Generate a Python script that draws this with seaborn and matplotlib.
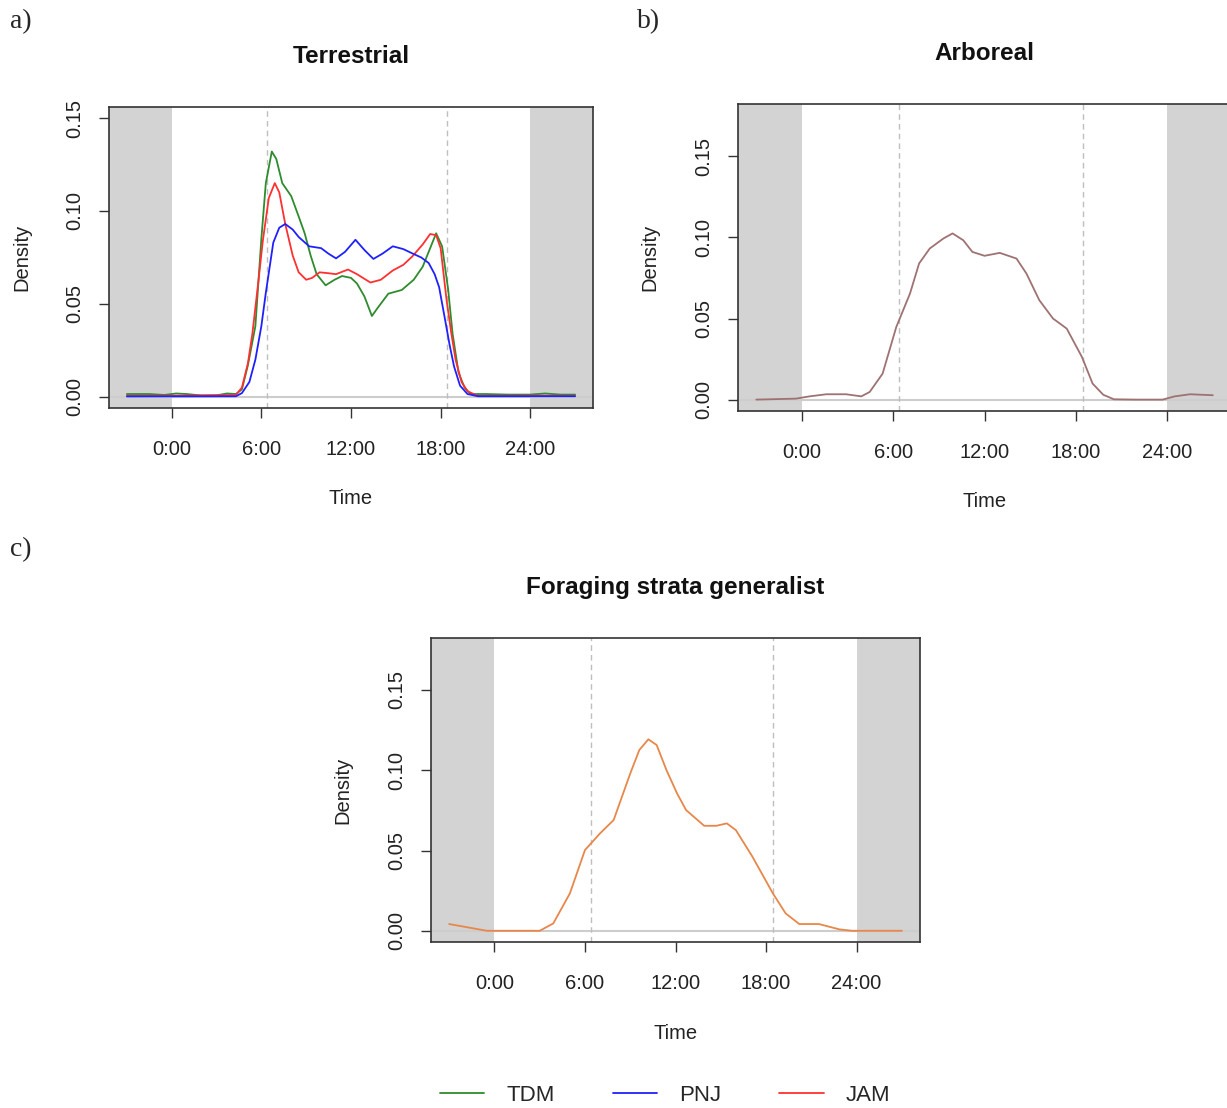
import matplotlib
matplotlib.use("Agg")
import matplotlib.pyplot as plt
from matplotlib.lines import Line2D
import numpy as np
import pandas as pd
import seaborn as sns

# Terrestrial: hour of day vs. kernel density, per site
tdm_t = [-3.0, -1.5, -0.5, 0.3, 1.0, 2.0, 3.0, 3.7, 4.3, 4.7, 5.1, 5.6, 6.0, 6.3, 6.7, 7.0,
         7.4, 8.0, 8.5, 8.9, 9.3, 9.7, 10.3, 10.9, 11.4, 12.0, 12.4, 12.9, 13.4, 13.8, 14.5,
         15.4, 16.2, 16.8, 17.3, 17.7, 18.1, 18.5, 18.8, 19.2, 19.6, 20.0, 21.0, 22.5, 24.0,
         25.0, 26.0, 27.0]
tdm_d = [0.0015, 0.0015, 0.001, 0.0018, 0.0015, 0.0007, 0.0008, 0.0018, 0.0015, 0.004, 0.017,
         0.038, 0.085, 0.115, 0.132, 0.128, 0.115, 0.108, 0.097, 0.088, 0.076, 0.066, 0.060,
         0.063, 0.065, 0.064, 0.061, 0.054, 0.0435, 0.048, 0.0555, 0.0575, 0.063, 0.070, 0.080,
         0.088, 0.081, 0.058, 0.034, 0.013, 0.005, 0.0015, 0.0015, 0.0012, 0.0012, 0.0018,
         0.0012, 0.0012]

jam_t = [-3.0, 0.0, 4.3, 4.7, 5.1, 5.4, 5.8, 6.1, 6.5, 6.9, 7.2, 7.6, 8.1, 8.5, 9.0, 9.4, 9.9,
         10.5, 11.0, 11.8, 12.4, 13.3, 14.0, 14.8, 15.5, 16.1, 16.8, 17.3, 17.7, 18.0, 18.4,
         18.7, 19.0, 19.4, 19.8, 20.5, 24.0, 27.0]
jam_d = [0.0005, 0.0006, 0.001, 0.005, 0.018, 0.034, 0.062, 0.084, 0.107, 0.115, 0.110, 0.093,
         0.076, 0.067, 0.063, 0.064, 0.067, 0.0665, 0.066, 0.0685, 0.066, 0.0615, 0.063, 0.068,
         0.071, 0.0755, 0.082, 0.0876, 0.087, 0.080, 0.052, 0.035, 0.020, 0.008, 0.003, 0.0005,
         0.0006, 0.0005]

pnj_t = [-3.0, 4.3, 4.7, 5.2, 5.6, 6.0, 6.3, 6.8, 7.2, 7.6, 8.1, 8.5, 9.2, 10.0, 10.5, 11.0,
         11.6, 12.3, 12.9, 13.5, 14.1, 14.8, 15.5, 16.1, 16.7, 17.2, 17.6, 17.9, 18.3, 18.6,
         18.9, 19.3, 19.8, 20.5, 27.0]
pnj_d = [0.0002, 0.0003, 0.002, 0.008, 0.020, 0.038, 0.056, 0.083, 0.091, 0.093, 0.090, 0.086,
         0.081, 0.080, 0.077, 0.0745, 0.078, 0.0845, 0.079, 0.0742, 0.077, 0.081, 0.0795, 0.0772,
         0.075, 0.072, 0.066, 0.059, 0.0414, 0.028, 0.0163, 0.006, 0.0015, 0.0003, 0.0003]

# Arboreal
arb_t = [-3.0, -0.4, 0.5, 1.6, 2.9, 3.9, 4.45, 5.3, 6.2, 7.1, 7.7, 8.4, 9.3, 9.9, 10.6, 11.2,
         12.0, 13.0, 14.1, 14.75, 15.6, 16.5, 17.4, 18.4, 19.1, 19.8, 20.5, 22.0, 23.7, 24.5,
         25.5, 27.0]
arb_d = [0.0, 0.0006, 0.002, 0.0033, 0.0033, 0.002, 0.0047, 0.016, 0.0448, 0.0654, 0.084,
         0.0932, 0.0994, 0.1025, 0.0983, 0.0911, 0.0887, 0.0905, 0.087, 0.0778, 0.0613, 0.050,
         0.0438, 0.0263, 0.0099, 0.003, 0.0002, 0.0, 0.0, 0.002, 0.0033, 0.0027]

# Foraging strata generalist
gen_t = [-3.0, -0.5, 3.0, 3.9, 5.0, 6.0, 7.0, 7.9, 9.0, 9.6, 10.2, 10.75, 11.4, 12.1, 12.7,
         13.9, 14.7, 15.4, 16.0, 17.1, 18.45, 19.3, 20.2, 21.5, 22.85, 23.7, 27.0]
gen_d = [0.0042, 0.0, 0.0, 0.0046, 0.0233, 0.0503, 0.0607, 0.069, 0.098, 0.1126, 0.1193,
         0.1157, 0.1001, 0.0856, 0.0752, 0.0654, 0.0654, 0.0669, 0.0627, 0.0461, 0.0233,
         0.0108, 0.0042, 0.0042, 0.0009, 0.0, 0.0]

sites = ["TDM", "PNJ", "JAM"]
site_colors = {"TDM": "#2E8B2E", "PNJ": "#2020FF", "JAM": "#FF3030"}
sunrise, sunset = 6.4, 18.45
hour_ticks = [0, 6, 12, 18, 24]
hour_labels = ["0:00", "6:00", "12:00", "18:00", "24:00"]
dens_ticks = [0.0, 0.05, 0.10, 0.15]
dens_labels = ["0.00", "0.05", "0.10", "0.15"]

terr = pd.concat([
    pd.DataFrame({"time": tdm_t, "density": tdm_d, "site": "TDM"}),
    pd.DataFrame({"time": jam_t, "density": jam_d, "site": "JAM"}),
    pd.DataFrame({"time": pnj_t, "density": pnj_d, "site": "PNJ"}),
])
arb = pd.DataFrame({"time": arb_t, "density": arb_d})
gen = pd.DataFrame({"time": gen_t, "density": gen_d})

sns.set_style("white")
plt.rcParams["font.family"] = ["Liberation Sans", "DejaVu Sans"]

fig = plt.figure(figsize=(12.27, 11.08), dpi=100)
ax_a = fig.add_axes([0.0888, 0.6318, 0.3945, 0.2717])
ax_b = fig.add_axes([0.6015, 0.6291, 0.4018, 0.2770])
ax_c = fig.add_axes([0.3513, 0.1498, 0.3985, 0.2744])


def base(ax, title, ylim):
    ax.axvspan(-10, 0, color="#D3D3D3", lw=0, zorder=0)
    ax.axvspan(24, 40, color="#D3D3D3", lw=0, zorder=0)
    ax.axhline(0, color="#CDCDCD", lw=1.5, zorder=1)
    for h in (sunrise, sunset):
        ax.axvline(h, color="#BEBEBE", lw=1, ls=(0, (4, 3)), zorder=1)
    ax.set_xlim(-4.2, 28.2)
    ax.set_ylim(*ylim)
    ax.set_xticks(hour_ticks)
    ax.set_xticklabels(hour_labels)
    ax.set_yticks(dens_ticks)
    ax.set_yticklabels(dens_labels, rotation=90, va="center")
    ax.tick_params(axis="both", direction="out", length=7, width=1, color="#333333",
                   labelsize=14.5, labelcolor="#222222", bottom=True, left=True)
    ax.tick_params(axis="x", pad=16)
    ax.tick_params(axis="y", pad=11)
    for s in ax.spines.values():
        s.set_color("#333333")
        s.set_linewidth(1.2)
    ax.set_xlabel("Time", fontsize=14.5, color="#222222", va="center")
    ax.set_ylabel("Density", fontsize=14.5, color="#222222", va="center")
    ax.text(0.5, 1.166, title, transform=ax.transAxes, ha="center", va="center",
            fontsize=17.5, fontweight="bold", color="#111111")


sns.lineplot(data=terr, x="time", y="density", hue="site", hue_order=["TDM", "JAM", "PNJ"],
             palette=site_colors, lw=1.3, ax=ax_a, legend=False, zorder=3)
base(ax_a, "Terrestrial", (-0.006, 0.156))
ax_a.xaxis.set_label_coords(0.5, -0.30)
ax_a.yaxis.set_label_coords(-0.18, 0.5)

sns.lineplot(data=arb, x="time", y="density", color="#9E7272", lw=1.3, ax=ax_b, zorder=3)
base(ax_b, "Arboreal", (-0.007, 0.1823))
ax_b.xaxis.set_label_coords(0.5, -0.296)
ax_b.yaxis.set_label_coords(-0.178, 0.5)

sns.lineplot(data=gen, x="time", y="density", color="#E8874A", lw=1.3, ax=ax_c, zorder=3)
base(ax_c, "Foraging strata generalist", (-0.007, 0.1824))
ax_c.xaxis.set_label_coords(0.5, -0.30)
ax_c.yaxis.set_label_coords(-0.18, 0.5)

for txt, x, y in [("a)", 10, 22), ("b)", 637, 22), ("c)", 10, 550)]:
    fig.text(x / 1227, 1 - y / 1108, txt, ha="left", va="center", fontsize=20,
             family=["Liberation Serif", "DejaVu Serif"])

handles = [Line2D([], [], color=site_colors[s], lw=1.3) for s in sites]
fig.legend(handles, sites, loc="center", bbox_to_anchor=(0.542, 0.0115), ncol=3,
           frameon=False, fontsize=16, handlelength=2.0, handletextpad=1.0,
           columnspacing=2.6)

fig.savefig("out.png", dpi=100)
